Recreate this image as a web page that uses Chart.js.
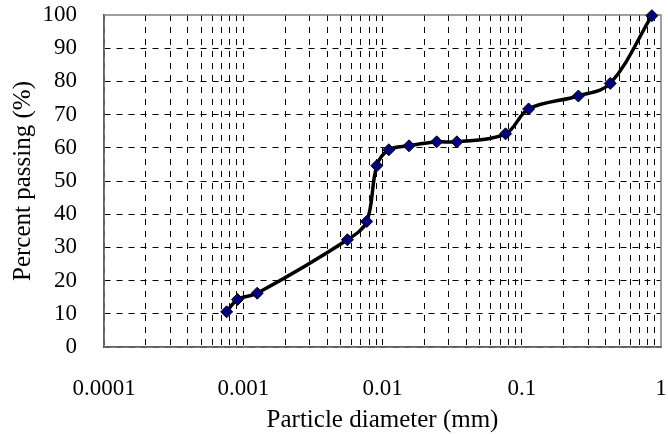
<!DOCTYPE html>
<html>
<head>
<meta charset="utf-8">
<script src="https://cdn.jsdelivr.net/npm/chart.js@4/dist/chart.umd.min.js"></script>
<style>
  html,body{margin:0;padding:0;background:#fff;}
  #wrap{width:668px;height:434px;}
</style>
</head>
<body>
<div id="wrap"><canvas id="grading"></canvas></div>
<script>
// grain size distribution
const diameters = [0.00076, 0.00091, 0.00126, 0.0056, 0.0077, 0.0091, 0.0111, 0.0155, 0.0245, 0.0342, 0.0765, 0.112, 0.255, 0.432, 0.86];
const passing   = [10.6, 14.3, 16.2, 32.3, 37.8, 54.6, 59.4, 60.6, 61.8, 61.8, 64.2, 71.7, 75.6, 79.4, 99.8];
const decades   = [0.0001, 0.001, 0.01, 0.1, 1];
const yTicks    = [0, 10, 20, 30, 40, 50, 60, 70, 80, 90, 100];

const serif = "'Liberation Serif','Times New Roman',serif";

// every 1..9 multiple inside each decade gets a grid line
const logGrid = [];
decades.forEach((d, i) => {
  if (i === decades.length - 1) { logGrid.push(d); return; }
  for (let m = 1; m <= 9; m++) logGrid.push(+(m * d).toPrecision(3));
});

// grey frame round the plot area
const frame = {
  id: 'frame',
  beforeDatasetsDraw(chart){
    const a = chart.chartArea, c = chart.ctx;
    c.save();
    c.strokeStyle = '#808080';
    c.lineWidth = 1.5;
    c.strokeRect(a.left, a.top, a.right - a.left, a.bottom - a.top);
    c.restore();
  }
};

new Chart(document.getElementById('grading'), {
  type: 'line',
  data: {
    datasets: [{
      data: diameters.map((d, i) => ({x: d, y: passing[i]})),
      borderColor: '#000',
      borderWidth: 3.5,
      tension: 0.35,
      pointStyle: 'rectRot',
      pointRadius: 6,
      pointBackgroundColor: '#000080',
      pointBorderColor: '#000',
      pointBorderWidth: 1,
      clip: false
    }]
  },
  plugins: [frame],
  options: {
    responsive: true,
    maintainAspectRatio: false,
    animation: false,
    layout: {padding: {left: 2, right: 4, top: 15, bottom: 0}},
    plugins: {legend: {display: false}, tooltip: {enabled: false}},
    scales: {
      x: {
        type: 'logarithmic',
        min: 0.0001,
        max: 1,
        afterBuildTicks(axis){ axis.ticks = logGrid.map(v => ({value: v})); },
        afterFit(axis){
          axis.height = 87;
          axis.paddingLeft = 0;
          axis.paddingRight = 0;
        },
        ticks: {
          autoSkip: false,
          maxRotation: 0,
          padding: 28,
          color: '#000',
          font: {family: serif, size: 23},
          callback: v => decades.includes(v) ? String(v) : ''
        },
        grid: {
          color: ctx => ctx.tick && ctx.tick.value === 1 ? 'transparent' : '#000',
          lineWidth: 1,
          drawTicks: false
        },
        border: {color: '#000', width: 1.5, dash: [6, 6]},
        title: {
          display: true,
          text: 'Particle diameter (mm)',
          color: '#000',
          font: {family: serif, size: 25, lineHeight: 1},
          padding: {top: 0, bottom: 1}
        }
      },
      y: {
        min: 0,
        max: 100,
        afterBuildTicks(axis){ axis.ticks = yTicks.map(v => ({value: v})); },
        afterFit(axis){
          axis.width = 102;
          axis.paddingTop = 0;
          axis.paddingBottom = 0;
        },
        ticks: {
          padding: 27,
          color: '#000',
          font: {family: serif, size: 23}
        },
        grid: {
          color: ctx => ctx.tick && ctx.tick.value === 100 ? 'transparent' : '#000',
          lineWidth: 1,
          drawTicks: false
        },
        border: {color: '#000', width: 1.5, dash: [6, 6]},
        title: {
          display: true,
          text: 'Percent passing (%)',
          color: '#000',
          font: {family: serif, size: 25},
          padding: {top: 6, bottom: 0}
        }
      }
    }
  }
});
</script>
</body>
</html>
